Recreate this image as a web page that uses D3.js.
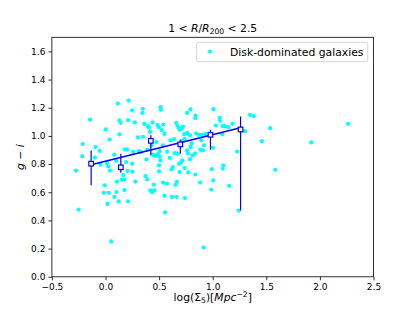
<!DOCTYPE html>
<html><head><meta charset="utf-8">
<script src="https://cdn.jsdelivr.net/npm/d3@7"></script>
<style>
html,body{margin:0;padding:0;background:#fff;}
text{font-family:"DejaVu Sans",sans-serif;}
</style></head>
<body><div id="chart"></div>
<script>
// ---- data ----
const diskLogSigma = [0.115,0.217,0.249,0.348,0.346,0.514,0.517,0.130,0.143,0.212,0.274,-0.144,0.362,0.395,0.439,0.486,0.498,0.540,0.661,0.670,0.682,0.692,0.713,0.723,0.762,0.793,0.841,0.837,1.008,1.066,1.069,1.094,1.117,1.146,1.185,1.347,1.384,1.303,1.536,2.263,1.459,1.920,0.002,0.130,0.406,0.416,0.526,0.550,0.734,0.762,0.788,0.846,0.872,0.898,0.930,1.029,1.089,0.302,0.350,0.039,-0.213,-0.094,-0.054,0.182,0.201,0.257,0.313,0.333,0.430,0.390,0.474,0.640,0.605,0.739,0.717,0.804,0.795,0.895,0.919,0.536,0.885,0.910,0.505,0.489,0.505,0.575,0.600,0.645,0.762,0.771,0.813,0.837,1.003,-0.216,-0.099,0.383,0.444,0.463,0.673,1.228,-0.275,-0.250,-0.047,-0.007,-0.016,0.032,0.020,0.053,0.025,0.015,0.042,0.100,0.193,0.166,0.154,0.177,0.107,0.103,0.084,0.123,0.210,0.177,0.205,0.252,0.249,0.278,0.374,0.390,0.418,0.435,0.458,0.451,0.500,0.500,0.514,0.537,0.575,0.551,0.556,0.629,0.617,0.622,0.664,0.654,0.667,0.687,0.706,0.717,0.692,0.739,0.773,0.788,0.741,0.839,0.884,0.916,0.991,1.005,0.986,1.099,1.094,1.153,1.244,1.583,0.081];
const diskGI = [1.230,1.251,1.182,1.193,1.163,1.204,1.186,1.110,1.093,1.112,1.096,1.115,1.085,1.069,1.096,1.078,1.062,1.081,1.093,1.074,1.058,1.044,1.051,1.067,1.163,1.188,1.145,1.127,1.190,1.129,1.108,1.069,1.069,1.062,1.086,1.150,1.140,1.034,1.055,1.086,0.963,0.954,1.046,1.011,1.060,1.028,1.041,1.014,1.011,1.021,1.005,1.018,1.007,1.006,1.014,1.074,1.011,0.989,0.994,0.974,0.942,0.921,0.894,0.904,0.902,0.887,0.892,0.885,0.933,0.902,0.956,0.977,0.968,0.980,0.963,0.947,0.922,0.968,0.933,0.933,0.902,0.897,0.892,0.871,0.853,0.888,0.844,0.878,0.897,0.876,0.862,0.876,0.916,0.855,0.846,0.834,0.867,0.858,0.874,0.889,0.754,0.477,0.796,0.649,0.596,0.596,0.517,0.251,0.783,0.807,0.754,0.823,0.814,0.722,0.690,0.690,0.676,0.602,0.567,0.536,0.536,0.616,0.752,0.746,0.803,0.676,0.715,0.692,0.614,0.600,0.614,0.654,0.791,0.749,0.826,0.669,0.661,0.575,0.457,0.779,0.763,0.567,0.567,0.654,0.674,0.802,0.814,0.826,0.744,0.772,0.741,0.835,0.559,0.726,0.669,0.208,0.764,0.685,0.619,0.791,0.768,0.646,0.470,0.759,0.867];

const binX  = [-0.134, 0.143, 0.423, 0.698, 0.979, 1.260];
const binY  = [0.803, 0.777, 0.965, 0.940, 1.008, 1.046];
const binLo = [0.649, 0.739, 0.862, 0.874, 0.902, 0.472];
const binHi = [0.897, 0.874, 1.005, 0.975, 1.044, 1.138];

const fitSlope = 0.189;
const fitIntercept = 0.820;

const xTicks = [-0.5, 0.0, 0.5, 1.0, 1.5, 2.0, 2.5];
const yTicks = [0.0, 0.2, 0.4, 0.6, 0.8, 1.0, 1.2, 1.4, 1.6];
const xDomain = [-0.5, 2.5];
const yDomain = [0, 1.7];
const legendLabel = "Disk-dominated galaxies";

// ---- layout ----
const W = 415, H = 311;
const L = 51.9, R = 373.5, T = 37.3, B = 276.8;
const svg = d3.select("#chart").append("svg").attr("width", W).attr("height", H);

const x = d3.scaleLinear().domain(xDomain).range([L, R]);
const y = d3.scaleLinear().domain(yDomain).range([B, T]);

const plot = svg.append("g");
// scatter
plot.selectAll("circle.pt").data(diskLogSigma.map((v,i)=>[v,diskGI[i]]))
  .enter().append("circle").attr("class","pt")
  .attr("cx", d=>x(d[0])).attr("cy", d=>y(d[1])).attr("r", 2.1)
  .attr("fill", "#00ffff");

// fit line
const fx0 = binX[0], fx1 = binX[binX.length-1];
plot.append("line")
  .attr("x1", x(fx0)).attr("y1", y(fitIntercept + fitSlope*fx0))
  .attr("x2", x(fx1)).attr("y2", y(fitIntercept + fitSlope*fx1))
  .attr("stroke", "#0000ff").attr("stroke-width", 1.5);

// error bars
plot.selectAll("line.eb").data(binX).enter().append("line").attr("class","eb")
  .attr("x1", d=>x(d)).attr("x2", d=>x(d))
  .attr("y1", (d,i)=>y(binLo[i])).attr("y2", (d,i)=>y(binHi[i]))
  .attr("stroke", "#0000ff").attr("stroke-width", 1.2);

// squares
const s = 4.6;
plot.selectAll("rect.bin").data(binX).enter().append("rect").attr("class","bin")
  .attr("x", d=>x(d)-s/2).attr("y", (d,i)=>y(binY[i])-s/2)
  .attr("width", s).attr("height", s)
  .attr("fill", "#ffffff").attr("stroke", "#0000ff").attr("stroke-width", 1.2);

// axes
const fmt = d3.format(".1f");
const xAxis = svg.append("g").attr("transform", `translate(0,${B})`)
  .call(d3.axisBottom(x).tickValues(xTicks).tickFormat(fmt).tickSize(3.5).tickSizeOuter(0).tickPadding(3));
const yAxis = svg.append("g").attr("transform", `translate(${L},0)`)
  .call(d3.axisLeft(y).tickValues(yTicks).tickFormat(fmt).tickSize(3.5).tickSizeOuter(0).tickPadding(3));
[xAxis, yAxis].forEach(a=>{
  a.select(".domain").remove();
  a.selectAll("text").attr("font-family","DejaVu Sans").attr("font-size", 9).attr("fill","#000");
  a.selectAll("line").attr("stroke","#000").attr("stroke-width",0.8);
});

// frame
svg.append("rect").attr("x", L).attr("y", T).attr("width", R-L).attr("height", B-T)
  .attr("fill","none").attr("stroke","#000").attr("stroke-width",0.8);

// title
const title = svg.append("text").attr("x", (L+R)/2).attr("y", 32)
  .attr("text-anchor","middle").attr("font-size", 10.8);
title.append("tspan").text("1 < ");
title.append("tspan").attr("font-style","italic").text("R");
title.append("tspan").text("/");
title.append("tspan").attr("font-style","italic").text("R");
title.append("tspan").attr("font-size", 7.6).attr("dy", 2.2).text("200");
title.append("tspan").attr("dy", -2.2).text(" < 2.5");

// x label
const xl = svg.append("text").attr("x", (L+R)/2).attr("y", 301)
  .attr("text-anchor","middle").attr("font-size", 10.8);
xl.append("tspan").text("log(Σ");
xl.append("tspan").attr("font-size", 7.6).attr("dy", 2.2).text("5");
xl.append("tspan").attr("dy", -2.2).text(")[");
xl.append("tspan").attr("font-style","italic").text("Mpc");
xl.append("tspan").attr("font-size", 7.6).attr("dy", -4.2).text("−2");
xl.append("tspan").attr("dy", 4.2).text("]");

// y label
const yl = svg.append("text").attr("transform", `translate(24,${(T+B)/2}) rotate(-90)`)
  .attr("text-anchor","middle").attr("font-size", 10.8);
yl.append("tspan").attr("font-style","italic").text("g");
yl.append("tspan").text(" − ");
yl.append("tspan").attr("font-style","italic").text("i");

// legend
const lg = svg.append("g");
lg.append("rect").attr("x", 196.7).attr("y", 42.3).attr("width", 171).attr("height", 19.4)
  .attr("rx", 2).attr("fill","#ffffff").attr("fill-opacity",0.8)
  .attr("stroke","#cccccc").attr("stroke-width",0.8);
lg.append("circle").attr("cx", 210).attr("cy", 51.5).attr("r", 2.1).attr("fill","#00ffff");
lg.append("text").attr("x", 230).attr("y", 55.6).attr("font-size", 10.8).text(legendLabel);
</script></body></html>
